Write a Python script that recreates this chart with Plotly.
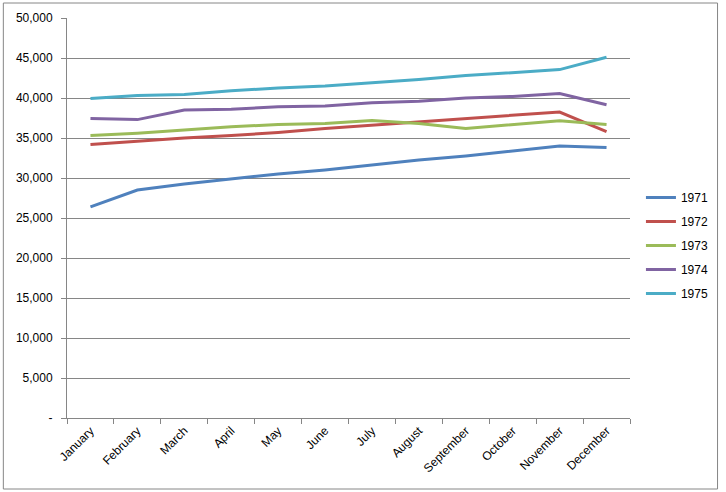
import plotly.graph_objects as go

months = ["January", "February", "March", "April", "May", "June", "July",
          "August", "September", "October", "November", "December"]
y1971 = [26400, 28500, 29250, 29900, 30500, 31000, 31600, 32250, 32750, 33400, 34000, 33800]
y1972 = [34200, 34600, 35000, 35300, 35700, 36200, 36600, 37000, 37400, 37800, 38250, 35800]
y1973 = [35300, 35600, 36000, 36400, 36700, 36800, 37200, 36800, 36200, 36700, 37150, 36700]
y1974 = [37450, 37300, 38500, 38600, 38900, 39000, 39400, 39600, 40000, 40200, 40550, 39150]
y1975 = [39950, 40300, 40450, 40900, 41250, 41500, 41900, 42300, 42800, 43200, 43550, 45100]
series_names = ["1971", "1972", "1973", "1974", "1975"]
series_vals = [y1971, y1972, y1973, y1974, y1975]
colors = ["#4F81BD", "#C0504D", "#9BBB59", "#8064A2", "#4BACC6"]
tick_vals = [0, 5000, 10000, 15000, 20000, 25000, 30000, 35000, 40000, 45000, 50000]
tick_text = ["-", "5,000", "10,000", "15,000", "20,000", "25,000", "30,000",
             "35,000", "40,000", "45,000", "50,000"]

fig = go.Figure()
for name, vals, c in zip(series_names, series_vals, colors):
    fig.add_trace(go.Scatter(x=months, y=vals, name=name, mode="lines",
                             line=dict(color=c, width=3), legendgroup=name))

W, H = 726, 492
ml, mr, mt, mb = 67, 93, 18, 74
pw, ph = W - ml - mr, H - mt - mb

fig.update_layout(
    width=W, height=H,
    margin=dict(l=ml, r=mr, t=mt, b=mb),
    paper_bgcolor="white", plot_bgcolor="white",
    font=dict(family="Liberation Sans, Arial, sans-serif", size=12, color="#000000"),
    showlegend=True,
    legend=dict(x=(644 - ml) / pw, y=(H - mb - 183) / ph, xanchor="left", yanchor="top",
                font=dict(size=12), tracegroupgap=5, itemwidth=30,
                bgcolor="rgba(0,0,0,0)"),
    xaxis=dict(type="category", tickson="boundaries", ticks="outside", ticklen=5,
               tickcolor="#868686", showline=True, linecolor="#868686", linewidth=1,
               showgrid=False, tickangle=-45, range=[-0.5, 11.5]),
    yaxis=dict(range=[0, 50000], tickvals=tick_vals, ticktext=tick_text,
               ticks="outside", ticklen=5, tickcolor="#868686", ticklabelstandoff=6,
               showline=True, linecolor="#868686", linewidth=1,
               showgrid=True, gridcolor="#868686", gridwidth=1, zeroline=False),
    shapes=[dict(type="rect", xref="paper", yref="paper",
                 x0=(3 - ml) / pw, x1=(721 - ml) / pw,
                 y0=(H - mb - 489) / ph, y1=(H - mb - 3) / ph,
                 line=dict(color="#868686", width=1), fillcolor="rgba(0,0,0,0)",
                 layer="below")],
)

fig.write_html("out.html", config={"displayModeBar": False},
               post_script="document.body.style.margin='0';document.body.style.overflow='hidden';")
